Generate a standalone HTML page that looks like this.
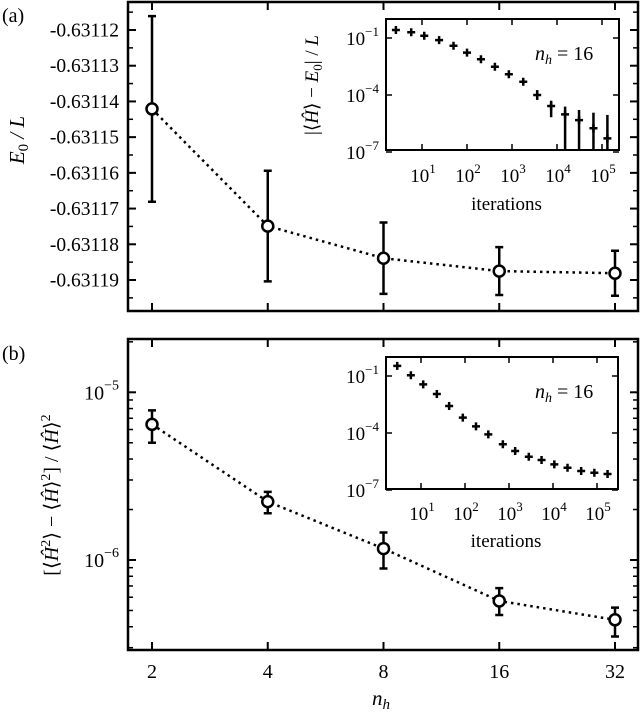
<!DOCTYPE html>
<html><head><meta charset="utf-8"><style>
html,body{margin:0;padding:0;background:#fff;}
svg{display:block;font-family:"Liberation Serif","Times New Roman",serif;}
</style></head><body>
<svg id="fig" width="640" height="712" viewBox="0 0 640 712" xmlns="http://www.w3.org/2000/svg"></svg>
<script>
// ---- data ----
const nhValues = [2, 4, 8, 16, 32];
const energyValues = [-0.6311421, -0.6311749, -0.6311839, -0.6311875, -0.6311881];
const energyErrors = [0.0000260, 0.0000155, 0.0000100, 0.0000067, 0.0000063];
const energyTicks = [-0.63112, -0.63113, -0.63114, -0.63115, -0.63116, -0.63117, -0.63118, -0.63119];
const varValues = [6.44e-6, 2.23e-6, 1.17e-6, 5.7e-7, 4.4e-7];
const varUpper = [7.8e-6, 2.55e-6, 1.46e-6, 6.8e-7, 5.2e-7];
const varLower = [5.0e-6, 1.9e-6, 0.89e-6, 4.7e-7, 3.5e-7];
const insetAIterLog = [0.42,0.76,1.05,1.38,1.70,2.0,2.31,2.62,2.93,3.25,3.56,3.87,4.18,4.49,4.81,5.12];
const insetAValLog = [-0.58,-0.70,-0.88,-1.11,-1.41,-1.77,-2.12,-2.51,-2.91,-3.30,-4.0,-4.58,-5.02,-5.32,-5.75,-6.28];
const insetAErrHiLog = [null,null,null,null,null,null,null,null,null,null,-3.74,-4.30,-4.61,-4.79,-4.93,-5.05];
const insetAErrLoLog = [null,null,null,null,null,null,null,null,null,null,-4.26,-5.17,-9,-9,-9,-9];
const insetBIterLog = [0.46,0.77,1.05,1.36,1.64,1.95,2.25,2.53,2.86,3.14,3.45,3.74,4.03,4.33,4.64,4.94,5.24];
const insetBValLog = [-0.47,-0.96,-1.44,-1.95,-2.58,-3.19,-3.65,-4.07,-4.59,-4.95,-5.25,-5.42,-5.65,-5.83,-6.0,-6.09,-6.16];
const insetXTicks = [1,2,3,4,5];
const insetYTicks = [-1,-4,-7];

const NS = "http://www.w3.org/2000/svg";
const svg = document.getElementById('fig');
function el(tag, attrs, parent, text){
  const e = document.createElementNS(NS, tag);
  for (const k in attrs) e.setAttribute(k, attrs[k]);
  if (text !== undefined) e.textContent = text;
  (parent || svg).appendChild(e);
  return e;
}

// ---- axes functions ----
const xMain = v => 152 + (Math.log2(v)-1)*115.75;
const yTop = v => 30 + (-0.63112 - v)/1e-5*35.714;
const yBot = v => 392.3 + (-5 - Math.log10(v))*167.7;
const xInA = l => 422 + (l-1)*45;
const yInA = l => 38 + (-1-l)*19;
const xInB = l => 421 + (l-1)*44;
const yInB = l => 376 + (-1-l)*19;

function frame(g,x0,y0,x1,y1,w,name){
  const r = el('rect',{x:x0,y:y0,width:x1-x0,height:y1-y0,fill:'#fff',stroke:'#000','stroke-width':w},g);
  
  
}
function tick(g,x1,y1,x2,y2,w){ el('line',{x1:x1,y1:y1,x2:x2,y2:y2,stroke:'#000','stroke-width':w},g); }

// ================= Panel A =================
const gA = el('g',{});


frame(gA,128,2,638,311,2.5,'panel-a-frame');
const la = el('text',{x:2,y:22,'font-size':20},gA,'(a)');
 
for (let i=0;i<energyTicks.length;i++){
  const y = yTop(energyTicks[i]);
  tick(gA,128,y,136,y,2); tick(gA,638,y,630,y,2);
  const t = el('text',{x:119,y:y+6.5,'font-size':19.5,'text-anchor':'end'},gA,energyTicks[i].toFixed(5));
   
}
for (let v=-0.631115; v>-0.6312; v-=0.00001){
  const y = yTop(v); if (y<4||y>309) continue;
  tick(gA,128,y,133,y,1.5); tick(gA,638,y,633,y,1.5);
}
for (const n of nhValues){ const x=xMain(n); tick(gA,x,311,x,303,2); tick(gA,x,2,x,10,2); }
const ylA = el('text',{transform:'translate(24,140) rotate(-90)','font-size':21,'text-anchor':'middle','font-style':'italic'},gA);
 
el('tspan',{},ylA,'E');el('tspan',{'font-size':15,dy:4,'font-style':'normal'},ylA,'0');el('tspan',{dy:-4},ylA,' / L');
let pts = nhValues.map((n,i)=>xMain(n)+','+yTop(energyValues[i])).join(' ');
const lnA = el('polyline',{points:pts,fill:'none',stroke:'#000','stroke-width':2.5,'stroke-dasharray':'2.5,4'},gA);
 
nhValues.forEach((n,i)=>{
  const x=xMain(n), y=yTop(energyValues[i]);
  const y1=yTop(energyValues[i]+energyErrors[i]), y2=yTop(energyValues[i]-energyErrors[i]);
  const eb = el('path',{d:`M${x},${y1}V${y2}M${x-4},${y1}H${x+4}M${x-4},${y2}H${x+4}`,stroke:'#000','stroke-width':2.5,fill:'none'},gA);
   
  const c = el('circle',{cx:x,cy:y,r:5.5,fill:'#fff',stroke:'#000','stroke-width':2.5},gA);
   
});

function inset(name,x0,y0,x1,y1,xs,ys,labY,iterY,nhY){
  const g = el('g',{});
  
  
  frame(g,x0,y0,x1,y1,2,name+'-frame');
  for (const t of insetYTicks){
    const y=ys(t); tick(g,x0,y,x0+6,y,1.5); tick(g,x1,y,x1-6,y,1.5);
    const tx = el('text',{x:x0-7,y:y+7,'font-size':19,'text-anchor':'end'},g);
     
    el('tspan',{},tx,'10'); el('tspan',{'font-size':13,dy:-9},tx,'\u2212'+(-t));
  }
  for (const t of insetXTicks){
    const x=xs(t); tick(g,x,y1,x,y1-6,1.5); tick(g,x,y0,x,y0+6,1.5);
    const tx = el('text',{x:x+1,y:labY,'font-size':19,'text-anchor':'middle'},g);
     
    el('tspan',{},tx,'10'); el('tspan',{'font-size':13,dy:-9},tx,String(t));
  }
  const it = el('text',{x:(x0+x1)/2+4,y:iterY,'font-size':19,'text-anchor':'middle'},g,'iterations');
   
  const nh = el('text',{x:535,y:nhY,'font-size':20},g);
   
  el('tspan',{'font-style':'italic'},nh,'n');el('tspan',{'font-style':'italic','font-size':14,dy:4},nh,'h');el('tspan',{dy:-4},nh,' = 16');
  return g;
}
const gIA = inset('inset-a',386,19,619,150,xInA,yInA,182,210,60);
const ylIA = el('text',{transform:'translate(318,85) rotate(-90)','font-size':19,'text-anchor':'middle'},gIA);
 
el('tspan',{},ylIA,'|⟨');el('tspan',{'font-style':'italic'},ylIA,'Ĥ');el('tspan',{},ylIA,'⟩ − ');el('tspan',{'font-style':'italic'},ylIA,'E');el('tspan',{'font-size':13,dy:4},ylIA,'0');el('tspan',{dy:-4},ylIA,'| / ');el('tspan',{'font-style':'italic'},ylIA,'L');
insetAIterLog.forEach((l,i)=>{
  const x=xInA(l), y=yInA(insetAValLog[i]);
  if (insetAErrHiLog[i]!==null){
    const y1=yInA(insetAErrHiLog[i]), y2=Math.min(yInA(insetAErrLoLog[i]),150);
    const e=el('line',{x1:x,y1:y1,x2:x,y2:y2,stroke:'#000','stroke-width':2.5},gIA);
     
  }
  const p=el('path',{d:`M${x-4},${y}H${x+4}M${x},${y-4}V${y+4}`,stroke:'#000','stroke-width':2.5},gIA);
   
});

// ================= Panel B =================
const gB = el('g',{});


frame(gB,128,339,638,650,2.5,'panel-b-frame');
const lb = el('text',{x:2,y:360,'font-size':20},gB,'(b)');
 
for (const dec of [-7,-6,-5]){
  for (let m=1;m<10;m++){
    const v=m*Math.pow(10,dec), y=yBot(v);
    if (y<341||y>648) continue;
    const len = m===1?8:5;
    tick(gB,128,y,128+len,y,m===1?2:1.5); tick(gB,638,y,638-len,y,m===1?2:1.5);
    if (m===1){
      const tx = el('text',{x:119,y:y+7,'font-size':20,'text-anchor':'end'},gB);
       
      el('tspan',{},tx,'10'); el('tspan',{'font-size':14,dy:-10},tx,'\u2212'+(-dec));
    }
  }
}
for (const n of nhValues){
  const x=xMain(n); tick(gB,x,650,x,642,2); tick(gB,x,339,x,347,2);
  const tx = el('text',{x:x,y:678,'font-size':20,'text-anchor':'middle'},gB,String(n));
   
}
const xl = el('text',{x:381,y:705,'font-size':21,'text-anchor':'middle','font-style':'italic'},gB);
 
el('tspan',{},xl,'n'); el('tspan',{'font-size':15,dy:4},xl,'h');
const ylB = el('text',{transform:'translate(58,495) rotate(-90)','font-size':20,'text-anchor':'middle'},gB);
 
el('tspan',{},ylB,'[⟨');el('tspan',{'font-style':'italic'},ylB,'Ĥ');el('tspan',{'font-size':14,dy:-8},ylB,'2');el('tspan',{dy:8},ylB,'⟩ − ⟨');el('tspan',{'font-style':'italic'},ylB,'Ĥ');el('tspan',{},ylB,'⟩');el('tspan',{'font-size':14,dy:-8},ylB,'2');el('tspan',{dy:8},ylB,'] / ⟨');el('tspan',{'font-style':'italic'},ylB,'Ĥ');el('tspan',{},ylB,'⟩');el('tspan',{'font-size':14,dy:-8},ylB,'2');
pts = nhValues.map((n,i)=>xMain(n)+','+yBot(varValues[i])).join(' ');
const lnB = el('polyline',{points:pts,fill:'none',stroke:'#000','stroke-width':2.5,'stroke-dasharray':'2.5,4'},gB);
 
nhValues.forEach((n,i)=>{
  const x=xMain(n), y=yBot(varValues[i]);
  const y1=yBot(varUpper[i]), y2=yBot(varLower[i]);
  const eb = el('path',{d:`M${x},${y1}V${y2}M${x-4},${y1}H${x+4}M${x-4},${y2}H${x+4}`,stroke:'#000','stroke-width':2.5,fill:'none'},gB);
   
  const c = el('circle',{cx:x,cy:y,r:5.5,fill:'#fff',stroke:'#000','stroke-width':2.5},gB);
   
});

const gIB = inset('inset-b',386,357,618,489,xInB,yInB,520,547,398);
insetBIterLog.forEach((l,i)=>{
  const x=xInB(l), y=yInB(insetBValLog[i]);
  const p=el('path',{d:`M${x-4},${y}H${x+4}M${x},${y-4}V${y+4}`,stroke:'#000','stroke-width':2.5},gIB);
   
});
</script>
</body></html>
